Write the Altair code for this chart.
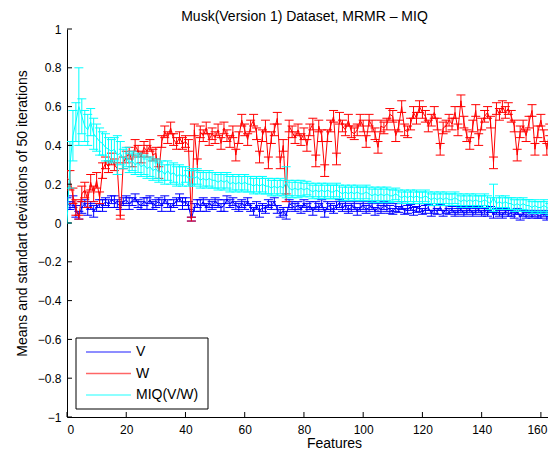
import altair as alt
import pandas as pd

features = list(range(166))

v_mean = [
    0.10, 0.09, 0.11, 0.06, 0.04, 0.08, 0.10, 0.07, 0.09, 0.06,
    0.08, 0.10, 0.09, 0.11, 0.10, 0.12, 0.11, 0.10, 0.09, 0.11,
    0.12, 0.10, 0.11, 0.13, 0.10, 0.09, 0.11, 0.10, 0.12, 0.09,
    0.10, 0.11, 0.09, 0.12, 0.10, 0.08, 0.10, 0.11, 0.13, 0.10,
    0.11, 0.09, 0.02, 0.08, 0.10, 0.09, 0.11, 0.08, 0.10, 0.09,
    0.11, 0.10, 0.08, 0.09, 0.12, 0.10, 0.11, 0.09, 0.08, 0.10,
    0.09, 0.11, 0.08, 0.06, 0.09, 0.06, 0.08, 0.07, 0.10, 0.09,
    0.11, 0.07, 0.05, 0.06, 0.04, 0.10, 0.09, 0.08, 0.09, 0.07,
    0.10, 0.08, 0.09, 0.06, 0.09, 0.08, 0.10, 0.05, 0.09, 0.08,
    0.07, 0.09, 0.10, 0.08, 0.09, 0.07, 0.08, 0.09, 0.06, 0.08,
    0.09, 0.07, 0.08, 0.09, 0.06, 0.08, 0.07, 0.09, 0.08, 0.07,
    0.06, 0.08, 0.07, 0.09, 0.06, 0.07, 0.08, 0.06, 0.07, 0.08,
    0.06, 0.07, 0.08, 0.05, 0.07, 0.06, 0.08, 0.05, 0.07, 0.06,
    0.07, 0.05, 0.06, 0.07, 0.05, 0.06, 0.07, 0.05, 0.06, 0.07,
    0.05, 0.06, 0.05, 0.07, 0.04, 0.06, 0.05, 0.04, 0.06, 0.05,
    0.05, 0.04, 0.06, 0.03, 0.05, 0.04, 0.05, 0.04, 0.05, 0.04,
    0.04, 0.05, 0.03, 0.04, 0.04, 0.03,
]
v_std = [
    0.03, 0.02, 0.03, 0.03, 0.02, 0.03, 0.02, 0.03, 0.02, 0.03,
    0.02, 0.02, 0.03, 0.02, 0.02, 0.02, 0.03, 0.02, 0.02, 0.02,
    0.02, 0.03, 0.02, 0.02, 0.02, 0.02, 0.02, 0.03, 0.02, 0.02,
    0.02, 0.02, 0.03, 0.02, 0.02, 0.02, 0.02, 0.02, 0.02, 0.03,
    0.02, 0.02, 0.01, 0.02, 0.02, 0.03, 0.02, 0.02, 0.02, 0.02,
    0.02, 0.02, 0.02, 0.03, 0.02, 0.02, 0.02, 0.02, 0.02, 0.02,
    0.02, 0.02, 0.02, 0.02, 0.02, 0.03, 0.02, 0.02, 0.02, 0.02,
    0.02, 0.02, 0.02, 0.02, 0.02, 0.02, 0.02, 0.02, 0.02, 0.02,
    0.02, 0.02, 0.02, 0.02, 0.02, 0.02, 0.02, 0.02, 0.02, 0.02,
    0.02, 0.02, 0.02, 0.02, 0.02, 0.02, 0.02, 0.02, 0.02, 0.02,
    0.02, 0.02, 0.02, 0.02, 0.02, 0.02, 0.02, 0.02, 0.02, 0.02,
    0.015, 0.02, 0.015, 0.02, 0.015, 0.02, 0.015, 0.02, 0.015, 0.02,
    0.015, 0.02, 0.015, 0.015, 0.02, 0.015, 0.015, 0.015, 0.02, 0.015,
    0.015, 0.015, 0.015, 0.015, 0.015, 0.015, 0.015, 0.015, 0.015, 0.015,
    0.015, 0.015, 0.015, 0.015, 0.015, 0.015, 0.015, 0.015, 0.015, 0.015,
    0.015, 0.015, 0.015, 0.015, 0.015, 0.015, 0.015, 0.015, 0.015, 0.015,
    0.015, 0.015, 0.015, 0.015, 0.015, 0.015,
]
w_mean = [
    0.23, 0.22, 0.14, 0.08, 0.03, 0.15, 0.17, 0.12, 0.21, 0.15,
    0.22, 0.13, 0.27, 0.31, 0.29, 0.33, 0.30, 0.28, 0.03, 0.31,
    0.34, 0.36, 0.32, 0.40, 0.37, 0.34, 0.39, 0.37, 0.40, 0.35,
    0.36, 0.26, 0.42, 0.47, 0.44, 0.49, 0.43, 0.41, 0.44, 0.41,
    0.42, 0.40, 0.02, 0.48, 0.30, 0.47, 0.45, 0.49, 0.43, 0.46,
    0.44, 0.48, 0.41, 0.49, 0.45, 0.42, 0.47, 0.35, 0.44, 0.53,
    0.48, 0.43, 0.50, 0.53, 0.46, 0.34, 0.45, 0.50, 0.31, 0.44,
    0.48, 0.54, 0.31, 0.40, 0.13, 0.50, 0.47, 0.44, 0.48, 0.43,
    0.46, 0.40, 0.48, 0.51, 0.32, 0.50, 0.45, 0.27, 0.45, 0.50,
    0.55, 0.33, 0.54, 0.50, 0.48, 0.53, 0.47, 0.46, 0.48, 0.53,
    0.50, 0.42, 0.53, 0.50, 0.46, 0.39, 0.50, 0.49, 0.51, 0.56,
    0.55, 0.45, 0.50, 0.60, 0.48, 0.47, 0.51, 0.57, 0.54, 0.60,
    0.57, 0.55, 0.50, 0.53, 0.57, 0.51, 0.38, 0.49, 0.50, 0.53,
    0.51, 0.57, 0.48, 0.63, 0.52, 0.45, 0.41, 0.50, 0.58, 0.43,
    0.51, 0.55, 0.57, 0.52, 0.31, 0.59, 0.56, 0.60, 0.57, 0.59,
    0.55, 0.50, 0.35, 0.47, 0.50, 0.45, 0.52, 0.58, 0.38, 0.47,
    0.53, 0.45, 0.38, 0.48, 0.44, 0.50,
]
w_std = [
    0.04, 0.05, 0.04, 0.04, 0.01, 0.04, 0.04, 0.04, 0.04, 0.04,
    0.04, 0.03, 0.04, 0.03, 0.03, 0.03, 0.03, 0.03, 0.01, 0.03,
    0.03, 0.03, 0.03, 0.03, 0.03, 0.03, 0.03, 0.03, 0.03, 0.03,
    0.03, 0.03, 0.03, 0.03, 0.03, 0.03, 0.03, 0.03, 0.03, 0.03,
    0.03, 0.03, 0.01, 0.03, 0.03, 0.03, 0.03, 0.03, 0.03, 0.03,
    0.03, 0.03, 0.03, 0.03, 0.03, 0.03, 0.03, 0.03, 0.03, 0.03,
    0.03, 0.03, 0.03, 0.03, 0.03, 0.03, 0.03, 0.03, 0.03, 0.03,
    0.03, 0.03, 0.03, 0.03, 0.02, 0.03, 0.03, 0.03, 0.03, 0.03,
    0.03, 0.03, 0.03, 0.03, 0.03, 0.03, 0.03, 0.03, 0.03, 0.03,
    0.03, 0.03, 0.03, 0.03, 0.03, 0.03, 0.03, 0.03, 0.03, 0.03,
    0.03, 0.03, 0.03, 0.03, 0.03, 0.03, 0.03, 0.03, 0.03, 0.03,
    0.03, 0.03, 0.03, 0.03, 0.03, 0.03, 0.03, 0.03, 0.03, 0.03,
    0.03, 0.03, 0.03, 0.03, 0.03, 0.03, 0.03, 0.03, 0.03, 0.03,
    0.03, 0.03, 0.03, 0.03, 0.03, 0.03, 0.03, 0.03, 0.03, 0.03,
    0.03, 0.03, 0.03, 0.03, 0.03, 0.03, 0.03, 0.03, 0.03, 0.03,
    0.03, 0.03, 0.03, 0.03, 0.03, 0.03, 0.03, 0.03, 0.03, 0.03,
    0.03, 0.03, 0.03, 0.03, 0.03, 0.03,
]
miq_mean = [
    0.00, 0.30, 0.45, 0.52, 0.60, 0.55, 0.50, 0.48, 0.52, 0.46,
    0.44, 0.42, 0.41, 0.39, 0.38, 0.37, 0.38, 0.35, 0.36, 0.33,
    0.34, 0.31, 0.32, 0.30, 0.31, 0.29, 0.30, 0.28, 0.29, 0.27,
    0.28, 0.26, 0.27, 0.25, 0.27, 0.25, 0.26, 0.24, 0.25, 0.24,
    0.25, 0.23, 0.24, 0.23, 0.24, 0.22, 0.23, 0.22, 0.23, 0.22,
    0.22, 0.21, 0.22, 0.21, 0.22, 0.20, 0.21, 0.20, 0.21, 0.20,
    0.21, 0.20, 0.20, 0.19, 0.20, 0.19, 0.20, 0.19, 0.19, 0.18,
    0.19, 0.18, 0.19, 0.18, 0.21, 0.18, 0.17, 0.18, 0.17, 0.18,
    0.17, 0.18, 0.17, 0.16, 0.17, 0.16, 0.17, 0.16, 0.17, 0.16,
    0.16, 0.17, 0.16, 0.15, 0.16, 0.15, 0.16, 0.15, 0.16, 0.15,
    0.15, 0.16, 0.15, 0.14, 0.15, 0.14, 0.15, 0.14, 0.15, 0.14,
    0.14, 0.15, 0.14, 0.13, 0.14, 0.13, 0.14, 0.13, 0.14, 0.13,
    0.13, 0.14, 0.13, 0.12, 0.13, 0.12, 0.13, 0.12, 0.13, 0.12,
    0.12, 0.13, 0.12, 0.11, 0.12, 0.11, 0.12, 0.11, 0.12, 0.11,
    0.11, 0.12, 0.11, 0.10, 0.13, 0.10, 0.11, 0.10, 0.11, 0.10,
    0.10, 0.09, 0.10, 0.09, 0.10, 0.09, 0.09, 0.08, 0.09, 0.08,
    0.08, 0.09, 0.08, 0.07, 0.08, 0.07,
]
miq_std = [
    0.00, 0.12, 0.13, 0.10, 0.20, 0.09, 0.08, 0.08, 0.07, 0.08,
    0.07, 0.07, 0.06, 0.07, 0.06, 0.06, 0.06, 0.10, 0.06, 0.05,
    0.05, 0.05, 0.05, 0.05, 0.05, 0.05, 0.05, 0.05, 0.05, 0.05,
    0.05, 0.05, 0.05, 0.05, 0.05, 0.05, 0.05, 0.05, 0.05, 0.05,
    0.04, 0.04, 0.04, 0.04, 0.04, 0.04, 0.04, 0.04, 0.04, 0.04,
    0.04, 0.04, 0.04, 0.04, 0.04, 0.04, 0.04, 0.04, 0.04, 0.04,
    0.04, 0.04, 0.04, 0.04, 0.04, 0.04, 0.04, 0.04, 0.04, 0.04,
    0.04, 0.04, 0.04, 0.04, 0.08, 0.04, 0.04, 0.04, 0.04, 0.04,
    0.035, 0.035, 0.035, 0.035, 0.035, 0.035, 0.035, 0.035, 0.035, 0.035,
    0.035, 0.035, 0.035, 0.035, 0.035, 0.035, 0.035, 0.035, 0.035, 0.035,
    0.035, 0.035, 0.035, 0.035, 0.035, 0.035, 0.035, 0.035, 0.035, 0.035,
    0.03, 0.03, 0.03, 0.03, 0.03, 0.03, 0.03, 0.03, 0.03, 0.03,
    0.03, 0.03, 0.03, 0.03, 0.03, 0.03, 0.03, 0.03, 0.03, 0.03,
    0.03, 0.03, 0.03, 0.03, 0.03, 0.03, 0.03, 0.03, 0.03, 0.03,
    0.03, 0.03, 0.03, 0.03, 0.07, 0.03, 0.03, 0.03, 0.03, 0.03,
    0.03, 0.03, 0.03, 0.03, 0.03, 0.03, 0.03, 0.03, 0.03, 0.03,
    0.03, 0.03, 0.03, 0.03, 0.03, 0.03,
]

series_names = ["V", "W", "MIQ(V/W)"]
series_colors = ["#0000ff", "#ff0000", "#00ffff"]
x_ticks = [0, 20, 40, 60, 80, 100, 120, 140, 160]
y_ticks = [-1, -0.8, -0.6, -0.4, -0.2, 0, 0.2, 0.4, 0.6, 0.8, 1]

FONT = "Liberation Sans"
W_PLOT, H_PLOT = 481, 388
X_MAX = 162.4

x_scale = alt.Scale(domain=[0, X_MAX], nice=False, zero=False)
y_scale = alt.Scale(domain=[-1, 1], nice=False, zero=False)
x_axis = alt.Axis(values=x_ticks, ticks=False, grid=False, labelPadding=7,
                  labelOffset={"condition": {"test": "datum.value == 160", "value": -4}, "value": 0},
                  format="d", title="Features", titleX=267, titleY=30,
                  titleBaseline="alphabetic", titleFontSize=14)
y_axis = alt.Axis(values=y_ticks, ticks=False, grid=False, labelPadding=6,
                  format="~g", title="Means and standart deviations of 50 iterations",
                  titlePadding=8, titleY=184, titleFontSize=14)


def X(field):
    return alt.X(field, type="quantitative", scale=x_scale, axis=x_axis)


def Y(field):
    return alt.Y(field, type="quantitative", scale=y_scale, axis=y_axis)


frames = []
for name, m, s in zip(series_names, [v_mean, w_mean, miq_mean], [v_std, w_std, miq_std]):
    frames.append(pd.DataFrame({
        "series": name,
        "f": features,
        "mean": m,
        "lo": [a - b for a, b in zip(m, s)],
        "hi": [a + b for a, b in zip(m, s)],
    }))

layers = []
for name, col, fr in zip(series_names, series_colors, frames):
    base = alt.Chart(fr)
    bars = base.mark_rule(color=col, strokeWidth=1, clip=True).encode(
        x=X("f"), y=Y("lo"), y2="hi")
    cap_lo = base.mark_rule(color=col, strokeWidth=1, clip=True, xOffset=-4.5, x2Offset=4.5).encode(
        x=X("f"), x2="f", y=Y("lo"))
    cap_hi = base.mark_rule(color=col, strokeWidth=1, clip=True, xOffset=-4.5, x2Offset=4.5).encode(
        x=X("f"), x2="f", y=Y("hi"))
    line = base.mark_line(color=col, strokeWidth=1, clip=True).encode(
        x=X("f"), y=Y("mean"))
    layers += [bars, cap_lo, cap_hi, line]

# inward tick marks (MATLAB style)
xt = alt.Chart(pd.DataFrame({"xt": x_ticks})).mark_rule(color="black", strokeWidth=1).encode(
    x=X("xt"), y=alt.value(H_PLOT), y2=alt.value(H_PLOT - 5))
yt = alt.Chart(pd.DataFrame({"yt": y_ticks})).mark_rule(color="black", strokeWidth=1).encode(
    y=Y("yt"), x=alt.value(0), x2=alt.value(5))
layers += [xt, yt]

# legend box
leg_df = pd.DataFrame({"k": [0]})
layers.append(alt.Chart(leg_df).mark_rect(fill="white", stroke="black", strokeWidth=1).encode(
    x=alt.value(9), x2=alt.value(141), y=alt.value(309), y2=alt.value(380)))
for i, (name, col) in enumerate(zip(series_names, series_colors)):
    yy = 323 + 21.5 * i
    ldf = pd.DataFrame({"label": [name]})
    layers.append(alt.Chart(ldf).mark_rule(color=col, strokeWidth=1.5, opacity=0.6).encode(
        x=alt.value(19), x2=alt.value(64), y=alt.value(yy)))
    layers.append(alt.Chart(ldf).mark_text(align="left", baseline="middle", font=FONT,
                                           fontSize=14, color="black").encode(
        x=alt.value(69), y=alt.value(yy), text="label:N"))

chart = alt.layer(*layers).properties(
    width=W_PLOT,
    height=H_PLOT,
    autosize=alt.AutoSizeParams(type="none"),
    padding={"left": 59, "top": 21, "right": 0, "bottom": 34},
    title=alt.TitleParams("Musk(Version 1) Dataset, MRMR \u2013 MIQ", font=FONT, fontSize=14,
                          fontWeight="normal", color="black", anchor="middle", frame="group",
                          offset=-1, dx=-3),
).configure_view(stroke=None).configure_axis(
    domainColor="black", domainWidth=1, labelColor="black", titleColor="black",
    labelFont=FONT, titleFont=FONT, labelFontSize=12,
    titleFontWeight="normal",
)

chart.save("out.html", embed_options={"renderer": "svg", "actions": False})
